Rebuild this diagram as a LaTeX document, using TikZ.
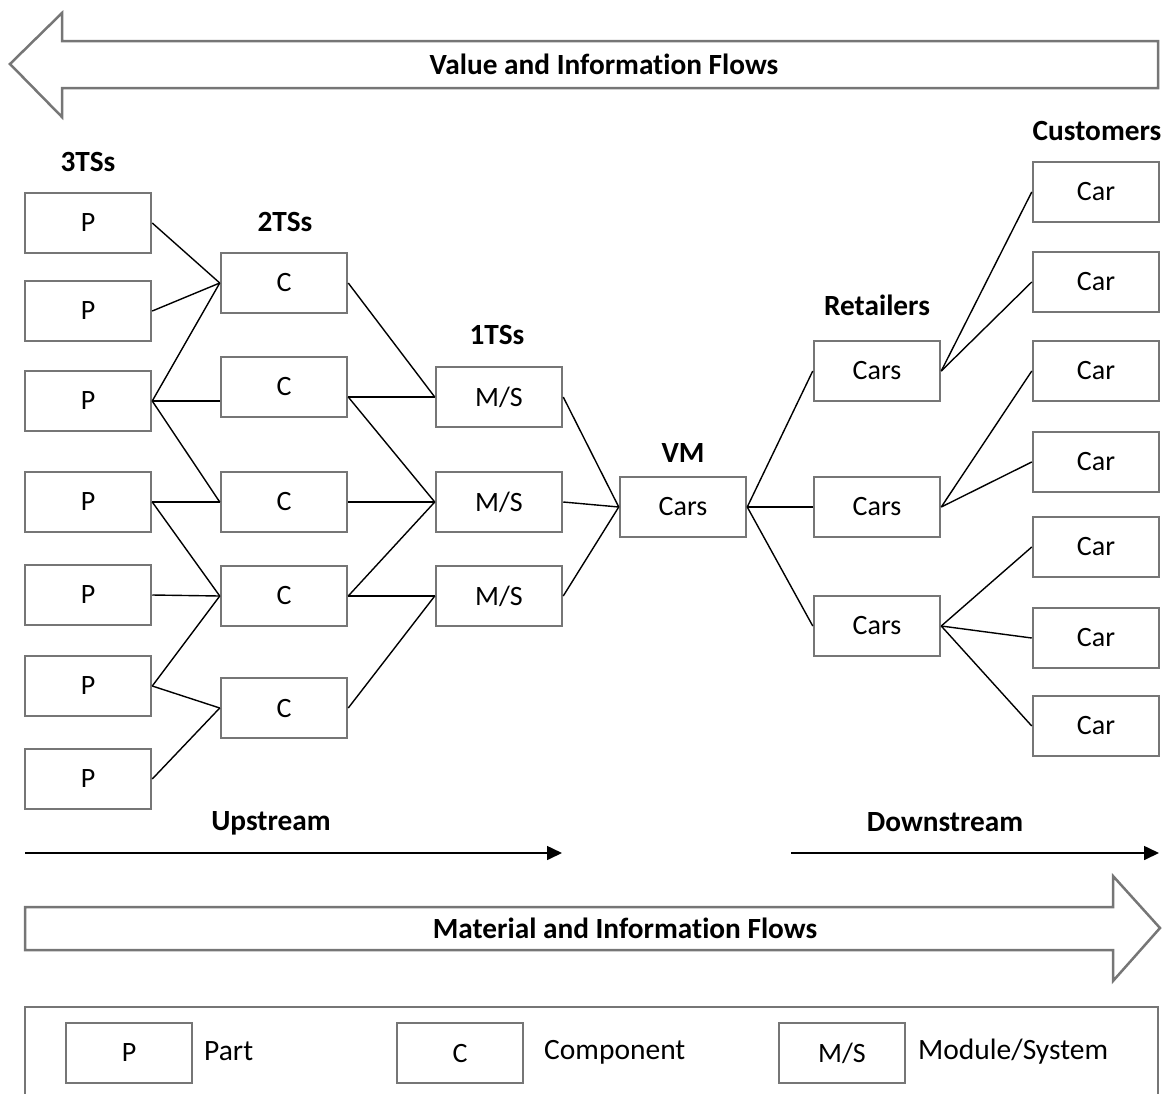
\documentclass[tikz,border=0pt]{standalone}
\usepackage{fontspec}
\setmainfont{Carlito}[Ligatures=NoCommon]
\usetikzlibrary{arrows.meta}
\definecolor{edgegray}{RGB}{118,118,118}
\begin{document}
\begin{tikzpicture}[x=1pt,y=-1pt,
  box/.style={draw=edgegray,line width=2.5pt,minimum width=126pt,minimum height=60pt,
    inner sep=0pt,font=\fontsize{28}{34}\selectfont},
  tier/.style={font=\fontsize{29.3}{35}\selectfont\bfseries,inner sep=0pt},
  legtext/.style={font=\fontsize{29.5}{35}\selectfont,inner sep=0pt,anchor=west},
  link/.style={line width=1.4pt},
  flow/.style={draw=edgegray,line width=2.5pt,line join=miter},
  dirarrow/.style={line width=1.6pt,-{Triangle[length=15pt,width=14pt]}}]
\useasboundingbox (0,0) rectangle (1173,1093);

% wide flow arrows
\draw[flow] (10,64) -- (62,13) -- (62,41) -- (1158,41) -- (1158,88) -- (62,88) -- (62,117) -- cycle;
\node[tier] (vflow) at (604,64) {Value and Information Flows};
\draw[flow] (25,907) -- (1113,907) -- (1113,876) -- (1160,928) -- (1113,981) -- (1113,950) -- (25,950) -- cycle;
\node[tier] (mflow) at (625,928) {Material and Information Flows};

% tier headings
\node[tier] (t3) at (88,162) {3TSs};
\node[tier] (t2) at (285,222) {2TSs};
\node[tier] (t1) at (497,335) {1TSs};
\node[tier] (tvm) at (683,453) {VM};
\node[tier] (tret) at (877,305) {Retailers};
\node[tier] (tcus) at (1097,131) {Customers};

% third-tier suppliers: parts
\node[box] (p1) at (88,223) {P};
\node[box] (p2) at (88,311) {P};
\node[box] (p3) at (88,401) {P};
\node[box] (p4) at (88,502) {P};
\node[box] (p5) at (88,595) {P};
\node[box] (p6) at (88,686) {P};
\node[box] (p7) at (88,779) {P};

% second-tier suppliers: components
\node[box] (c1) at (284,283) {C};
\node[box] (c2) at (284,387) {C};
\node[box] (c3) at (284,502) {C};
\node[box] (c4) at (284,596) {C};
\node[box] (c5) at (284,708) {C};

% first-tier suppliers: modules/systems
\node[box] (m1) at (499,397) {M/S};
\node[box] (m2) at (499,502) {M/S};
\node[box] (m3) at (499,596) {M/S};

% vehicle manufacturer
\node[box] (vm) at (683,507) {Cars};

% retailers
\node[box] (r1) at (877,371) {Cars};
\node[box] (r2) at (877,507) {Cars};
\node[box] (r3) at (877,626) {Cars};

% customers
\node[box] (k1) at (1096,192) {Car};
\node[box] (k2) at (1096,282) {Car};
\node[box] (k3) at (1096,371) {Car};
\node[box] (k4) at (1096,462) {Car};
\node[box] (k5) at (1096,547) {Car};
\node[box] (k6) at (1096,638) {Car};
\node[box] (k7) at (1096,726) {Car};

% parts to components
\coordinate (c2in) at (c2.west |- p3.east);
\coordinate (c2out) at (c2.east |- m1.west);
\draw[link] (p1.east) -- (c1.west);
\draw[link] (p2.east) -- (c1.west);
\draw[link] (p3.east) -- (c1.west);
\draw[link] (p3.east) -- (c2in);
\draw[link] (p3.east) -- (c3.west);
\draw[link] (p4.east) -- (c3.west);
\draw[link] (p4.east) -- (c4.west);
\draw[link] (p5.east) -- (c4.west);
\draw[link] (p6.east) -- (c4.west);
\draw[link] (p6.east) -- (c5.west);
\draw[link] (p7.east) -- (c5.west);

% components to modules/systems
\draw[link] (c1.east) -- (m1.west);
\draw[link] (c2out) -- (m1.west);
\draw[link] (c2out) -- (m2.west);
\draw[link] (c3.east) -- (m2.west);
\draw[link] (c4.east) -- (m2.west);
\draw[link] (c4.east) -- (m3.west);
\draw[link] (c5.east) -- (m3.west);

% modules/systems to vehicle manufacturer
\draw[link] (m1.east) -- (vm.west);
\draw[link] (m2.east) -- (vm.west);
\draw[link] (m3.east) -- (vm.west);

% vehicle manufacturer to retailers
\draw[link] (vm.east) -- (r1.west);
\draw[link] (vm.east) -- (r2.west);
\draw[link] (vm.east) -- (r3.west);

% retailers to customers
\draw[link] (r1.east) -- (k1.west);
\draw[link] (r1.east) -- (k2.west);
\draw[link] (r2.east) -- (k3.west);
\draw[link] (r2.east) -- (k4.west);
\draw[link] (r3.east) -- (k5.west);
\draw[link] (r3.east) -- (k6.west);
\draw[link] (r3.east) -- (k7.west);

% stream direction arrows
\node[tier] (up) at (271,823) {Upstream};
\node[tier] (down) at (945,822) {Downstream};
\coordinate (ua) at (25,853);
\coordinate (ub) at (562,853);
\coordinate (da) at (791,853);
\coordinate (db) at (1159,853);
\draw[dirarrow] (ua) -- (ub);
\draw[dirarrow] (da) -- (db);

% legend
\draw[flow] (25,1007) rectangle (1158,1120);
\node[box] (lp) at (129,1053) {P};
\node[legtext] (lpt) at (204,1051) {Part};
\node[box] (lc) at (460,1053) {C};
\node[legtext] (lct) at (544,1052) {Component};
\node[box] (lm) at (842,1053) {M/S};
\node[legtext] (lmt) at (918,1052) {Module/System};
\end{tikzpicture}
\end{document}
